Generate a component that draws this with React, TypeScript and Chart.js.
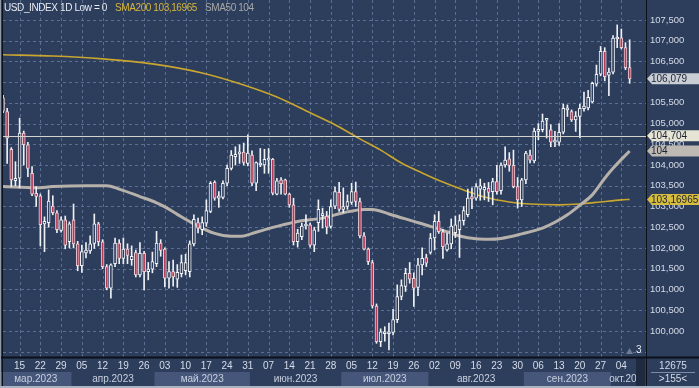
import React, { useEffect, useRef } from 'react';
import { Chart, registerables } from 'chart.js';

Chart.register(...registerables);

// ---- Data ----
const opens = [
  105.62, 105.29, 104.38, 103.62, 103.68, 104.77, 104.49, 103.80, 103.32, 103.26,
  102.58, 102.61, 103.01, 102.85, 102.42, 102.68, 102.15, 102.68, 102.10, 101.57,
  101.88, 101.93, 102.11, 102.58, 102.15, 101.55, 101.03, 101.62, 102.12, 101.75,
  101.97, 101.72, 101.89, 101.35, 101.87, 101.43, 101.49, 101.62, 102.12, 101.97,
  101.27, 101.43, 101.25, 101.38, 101.45, 101.43, 102.10, 102.61, 102.44, 102.60,
  102.88, 103.58, 103.20, 103.22, 103.56, 103.92, 104.20, 104.27, 104.31, 104.04,
  104.24, 103.56, 104.00, 104.00, 104.12, 104.14, 103.30, 103.64, 103.64, 103.30,
  103.04, 102.15, 102.27, 102.53, 102.56, 102.07, 102.61, 102.78, 102.77, 102.52,
  103.01, 103.34, 102.93, 103.00, 103.10, 103.36, 103.12, 102.29, 101.97, 101.65,
  100.60, 99.74, 99.93, 99.93, 99.96, 100.27, 100.83, 101.07, 101.39, 101.27,
  101.05, 101.59, 101.77, 101.89, 102.24, 102.64, 102.39, 101.95, 102.10, 102.37,
  102.44, 102.66, 102.80, 103.24, 103.20, 103.42, 103.40, 103.44, 103.36, 103.60,
  103.38, 104.00, 104.15, 103.99, 103.48, 103.16, 103.64, 104.24, 104.10, 104.81,
  104.85, 105.08, 104.85, 104.55, 104.55, 104.79, 105.33, 105.29, 105.09, 105.17,
  105.36, 105.38, 105.52, 105.95, 106.19, 106.74, 106.17, 106.24, 107.04, 107.07,
  106.83, 106.35,
];
const highs = [
  105.68, 105.37, 104.42, 104.08, 105.13, 104.82, 104.55, 103.96, 103.48, 103.30,
  102.75, 103.40, 103.26, 102.90, 102.75, 102.77, 102.63, 103.06, 102.16, 102.07,
  102.13, 102.29, 102.82, 102.62, 102.20, 101.60, 101.62, 102.24, 102.20, 102.24,
  102.10, 102.05, 101.95, 102.13, 101.92, 101.65, 101.90, 102.40, 102.20, 102.00,
  101.67, 101.71, 101.60, 101.83, 101.85, 102.17, 102.80, 102.72, 102.75, 103.16,
  103.60, 103.62, 103.36, 103.62, 104.00, 104.35, 104.44, 104.49, 104.53, 104.73,
  104.34, 104.08, 104.40, 104.38, 104.40, 104.16, 103.68, 103.70, 103.66, 103.32,
  103.20, 102.45, 102.60, 102.80, 102.60, 102.50, 103.16, 102.96, 102.88, 103.16,
  103.47, 103.58, 103.45, 103.28, 103.56, 103.59, 103.20, 102.37, 102.00, 101.70,
  100.65, 100.05, 100.10, 100.19, 100.52, 101.11, 101.23, 101.51, 101.65, 101.40,
  101.75, 102.00, 101.85, 102.35, 102.80, 102.88, 102.45, 102.36, 102.70, 102.77,
  102.80, 103.00, 103.42, 103.45, 103.55, 103.66, 103.56, 103.58, 103.68, 103.99,
  104.05, 104.44, 104.30, 104.36, 103.70, 103.68, 104.33, 104.36, 104.89, 105.00,
  105.23, 105.12, 104.97, 104.81, 105.00, 105.47, 105.45, 105.33, 105.29, 105.47,
  105.76, 105.80, 106.00, 106.41, 106.86, 106.83, 106.34, 107.12, 107.38, 107.28,
  106.95, 107.02,
];
const lows = [
  105.26, 104.04, 103.48, 103.50, 103.45, 104.00, 103.72, 103.26, 103.00, 102.05,
  101.91, 102.50, 102.80, 102.37, 102.38, 101.98, 102.00, 102.00, 101.45, 101.41,
  101.76, 101.87, 101.99, 102.05, 101.50, 100.99, 100.79, 101.55, 101.62, 101.62,
  101.62, 101.58, 101.30, 101.30, 100.99, 101.23, 101.40, 101.55, 101.80, 101.06,
  101.03, 101.08, 101.05, 101.30, 101.35, 101.30, 102.05, 102.36, 102.32, 102.52,
  102.85, 103.15, 102.98, 103.18, 103.50, 103.88, 104.00, 104.04, 104.00, 103.98,
  103.50, 103.38, 103.96, 103.80, 103.80, 103.28, 103.28, 103.30, 103.28, 102.98,
  102.07, 102.02, 102.20, 102.45, 102.02, 101.91, 102.40, 102.48, 102.34, 102.48,
  102.95, 102.88, 102.85, 102.93, 103.05, 103.00, 102.24, 101.95, 101.60, 100.55,
  99.70, 99.62, 99.75, 99.54, 99.90, 100.20, 100.75, 100.95, 101.15, 100.59,
  100.85, 101.35, 101.55, 101.85, 101.95, 102.35, 101.75, 101.92, 101.98, 102.25,
  101.77, 102.55, 102.75, 102.95, 103.15, 103.15, 103.16, 103.12, 103.04, 103.30,
  103.30, 103.95, 103.85, 103.45, 102.96, 103.00, 103.55, 104.05, 104.05, 104.61,
  104.80, 104.65, 104.44, 104.44, 104.47, 104.75, 105.17, 105.05, 104.81, 104.66,
  105.30, 105.33, 105.50, 105.90, 106.15, 106.03, 105.67, 106.20, 106.83, 106.80,
  106.30, 105.97,
];
const closes = [
  105.30, 104.65, 103.64, 103.68, 104.77, 104.49, 103.92, 103.30, 103.24, 102.56,
  102.64, 103.13, 102.85, 102.44, 102.68, 102.07, 102.58, 102.10, 101.57, 101.91,
  101.95, 102.10, 102.58, 102.15, 101.55, 101.03, 101.59, 102.12, 101.75, 101.97,
  101.82, 101.80, 101.35, 101.87, 101.43, 101.49, 101.67, 102.12, 101.94, 101.27,
  101.43, 101.30, 101.41, 101.65, 101.65, 102.10, 102.69, 102.48, 102.61, 102.90,
  103.56, 103.20, 103.26, 103.56, 103.92, 104.24, 104.26, 104.32, 104.06, 104.29,
  103.56, 104.06, 104.04, 104.14, 104.15, 103.32, 103.62, 103.55, 103.30, 103.04,
  102.15, 102.36, 102.53, 102.56, 102.07, 102.44, 102.93, 102.82, 102.50, 103.00,
  103.36, 102.93, 103.00, 103.12, 103.36, 103.12, 102.29, 101.97, 101.67, 100.60,
  99.74, 99.98, 99.96, 99.97, 100.27, 100.83, 101.09, 101.39, 101.25, 101.03,
  101.59, 101.75, 101.63, 102.24, 102.64, 102.39, 102.03, 102.10, 102.53, 102.56,
  102.66, 102.90, 103.20, 103.18, 103.48, 103.50, 103.46, 103.34, 103.60, 103.36,
  104.00, 104.12, 103.99, 103.48, 103.16, 103.64, 104.29, 104.12, 104.82, 104.85,
  105.06, 105.10, 104.55, 104.60, 104.79, 105.37, 105.37, 105.09, 105.18, 105.37,
  105.42, 105.63, 105.97, 106.19, 106.74, 106.13, 106.24, 107.06, 107.07, 106.83,
  106.35, 106.079,
];

const sma50Index = [0, 8, 12, 20, 25, 28, 33, 37, 39, 42, 46, 51, 55, 58, 61, 66, 71, 77, 82, 87, 89, 93, 99, 103, 107, 110, 114, 117, 120, 125, 130, 133, 136, 139, 142, 145, 147, 151];
const sma50Values = [103.48, 103.45, 103.48, 103.50, 103.50, 103.42, 103.24, 103.09, 102.99, 102.81, 102.58, 102.35, 102.28, 102.29, 102.38, 102.52, 102.64, 102.72, 102.85, 102.93, 102.93, 102.82, 102.64, 102.52, 102.39, 102.29, 102.22, 102.21, 102.23, 102.34, 102.48, 102.62, 102.80, 103.03, 103.28, 103.68, 103.92, 104.34];

const sma200Index = [0, 12, 24, 36, 48, 58, 66, 74, 80, 86, 91, 96, 101, 106, 111, 116, 122, 127, 134, 139, 144, 149, 151];
const sma200Values = [106.66, 106.63, 106.56, 106.44, 106.22, 105.93, 105.64, 105.26, 104.97, 104.63, 104.36, 104.05, 103.81, 103.59, 103.40, 103.23, 103.11, 103.06, 103.04, 103.06, 103.11, 103.16, 103.16965];

const weekTickIndex = [4, 9, 14, 19, 24, 29, 34, 39, 44, 49, 54, 59, 64, 69, 74, 79, 84, 89, 94, 99, 104, 109, 114, 119, 124, 129, 134, 139, 144, 149];
const weekLabels = ['15', '22', '29', '05', '12', '19', '26', '03', '10', '17', '24', '31', '07', '14', '21', '28', '05', '12', '19', '26', '02', '09', '16', '23', '30', '06', '13', '20', '27', '04'];
const monthLabels = ['мар.2023', 'апр.2023', 'май.2023', 'июн.2023', 'июл.2023', 'авг.2023', 'сен.2023', 'окт.2023'];
const monthStartIndex = [0, 17, 37, 60, 82, 103, 126, 147];

const yTickValues = [99.5, 100, 100.5, 101, 101.5, 102, 102.5, 103, 103.5, 104, 104.5, 105, 105.5, 106, 106.5, 107, 107.5];
const hiddenTickLabels = [99.5, 106];

const levelLine = 104.704;
const lastPrice = 106.079;
const sma50Tag = '104';
const sma200Last = 103.16965;
const titleMain = 'USD_INDEX 1D Low = 0';
const titleSma200 = 'SMA200 103,16965';
const titleSma50 = 'SMA50 104';
const boxTop = '12675';
const boxBottom = '>155<';
const markerText = '3';

// ---- Styles ----
const BG = '#2d3d5c';
const GRID = '#5b6f94';
const DOWN = '#b23a58';
const DOWN_BORDER = '#ecd0d8';
const UP_BORDER = '#f2f4f8';
const TEXT = '#d6dce8';
const FONT = "'Liberation Sans', Arial, sans-serif";
const Y_MIN = 99.37;
const Y_MAX = 107.98;
const X_MIN = 0;
const X_MAX = 154.94;

const fmt = (v: number) => v.toFixed(3).replace('.', ',');

const zeroPadding = (s: any) => {
  s.paddingTop = 0;
  s.paddingBottom = 0;
  s.paddingLeft = 0;
  s.paddingRight = 0;
};

const chartPlugin = {
  id: 'terminalLook',
  beforeDraw(chart: any) {
    const { ctx, width, height } = chart;
    ctx.save();
    ctx.fillStyle = BG;
    ctx.fillRect(0, 0, width, height);
    ctx.restore();
  },
  beforeDatasetsDraw(chart: any) {
    const { ctx, chartArea: a, scales } = chart;
    const x = scales.x, y = scales.y;
    ctx.save();
    ctx.beginPath();
    ctx.rect(a.left, a.top, a.right - a.left, a.bottom - a.top);
    ctx.clip();
    ctx.strokeStyle = GRID;
    ctx.lineWidth = 1;
    ctx.setLineDash([3, 3]);
    for (const t of y.ticks) {
      const py = Math.round(y.getPixelForValue(t.value)) + 0.5;
      ctx.beginPath();
      ctx.moveTo(a.left, py);
      ctx.lineTo(a.right, py);
      ctx.stroke();
    }
    for (const t of x.ticks) {
      const px = Math.round(x.getPixelForValue(t.value)) + 0.5;
      ctx.beginPath();
      ctx.moveTo(px, a.top);
      ctx.lineTo(px, a.bottom);
      ctx.stroke();
    }
    ctx.restore();
  },
  afterDatasetsDraw(chart: any) {
    const { ctx, chartArea: a, scales } = chart;
    const py = Math.round(scales.y.getPixelForValue(levelLine)) + 0.5;
    ctx.save();
    ctx.strokeStyle = '#d4d4cc';
    ctx.lineWidth = 1;
    ctx.beginPath();
    ctx.moveTo(a.left, py);
    ctx.lineTo(a.right, py);
    ctx.stroke();
    ctx.restore();
  },
  afterDraw(chart: any) {
    const { ctx, chartArea: a, scales, width, height } = chart;
    const x = scales.x, y = scales.y;
    ctx.save();

    // month bands
    const bandTop = 372, bandBottom = 386;
    ctx.font = `10px ${FONT}`;
    ctx.textAlign = 'center';
    ctx.textBaseline = 'middle';
    for (let k = 0; k < monthLabels.length; k++) {
      const x0 = k === 0 ? 0 : x.getPixelForValue(monthStartIndex[k] - 0.5);
      const x1 = k + 1 < monthLabels.length ? x.getPixelForValue(monthStartIndex[k + 1] - 0.5) : a.right;
      if (k % 2 === 0) {
        ctx.fillStyle = '#45567a';
        ctx.fillRect(x0, bandTop, x1 - x0, bandBottom - bandTop);
      }
      ctx.save();
      ctx.beginPath();
      ctx.rect(0, bandTop, 636, bandBottom - bandTop);
      ctx.clip();
      ctx.fillStyle = '#c9d1e0';
      ctx.fillText(monthLabels[k], (x0 + x1) / 2, 379);
      ctx.restore();
    }

    // scroll strip + marker
    ctx.fillStyle = '#1f2a40';
    ctx.fillRect(636, 358, 9, 29);
    ctx.fillStyle = '#6d7a92';
    ctx.beginPath();
    ctx.moveTo(626, 354);
    ctx.lineTo(629.5, 348);
    ctx.lineTo(633, 354);
    ctx.closePath();
    ctx.fill();
    ctx.fillStyle = '#e8ecf2';
    ctx.textAlign = 'left';
    ctx.fillText(markerText, 636, 350);

    // frame lines
    ctx.strokeStyle = '#0c1018';
    ctx.lineWidth = 2;
    ctx.beginPath();
    ctx.moveTo(0, 357.5);
    ctx.lineTo(width, 357.5);
    ctx.stroke();
    ctx.lineWidth = 1;
    ctx.beginPath();
    ctx.moveTo(646.5, 0);
    ctx.lineTo(646.5, height);
    ctx.stroke();
    ctx.beginPath();
    ctx.moveTo(2.5, 0);
    ctx.lineTo(2.5, height);
    ctx.stroke();
    ctx.strokeStyle = '#8e98ab';
    ctx.beginPath();
    ctx.moveTo(0.5, 0);
    ctx.lineTo(0.5, height);
    ctx.stroke();
    ctx.strokeStyle = '#aab3c2';
    ctx.lineWidth = 2;
    ctx.beginPath();
    ctx.moveTo(0, height - 1);
    ctx.lineTo(width, height - 1);
    ctx.stroke();

    // bottom-right box
    ctx.fillStyle = TEXT;
    ctx.textAlign = 'center';
    ctx.font = `10px ${FONT}`;
    ctx.fillText(boxTop, 673, 366);
    ctx.fillText(boxBottom, 673, 379);
    ctx.strokeStyle = '#7d8aa3';
    ctx.lineWidth = 1;
    ctx.beginPath();
    ctx.moveTo(651, 372.5);
    ctx.lineTo(695, 372.5);
    ctx.stroke();

    // value tags on the price axis
    const tag = (val: number, text: string, bg: string, fg: string) => {
      const py = y.getPixelForValue(val);
      ctx.fillStyle = bg;
      ctx.beginPath();
      ctx.moveTo(647, py);
      ctx.lineTo(652, py - 5.5);
      ctx.lineTo(width, py - 5.5);
      ctx.lineTo(width, py + 5.5);
      ctx.lineTo(652, py + 5.5);
      ctx.closePath();
      ctx.fill();
      ctx.fillStyle = fg;
      ctx.textAlign = 'left';
      ctx.textBaseline = 'middle';
      ctx.font = `10px ${FONT}`;
      ctx.fillText(text, 651, py + 0.5);
    };
    tag(lastPrice, fmt(lastPrice), '#c9cdd4', '#1b2233');
    tag(levelLine, fmt(levelLine), '#e6e4d4', '#1b2233');
    tag(sma50Values[sma50Values.length - 1], sma50Tag, '#beb9b3', '#1b2233');
    tag(sma200Last, String(sma200Last).replace('.', ','), '#d6bd3e', '#1b2233');

    // title
    ctx.textAlign = 'left';
    ctx.textBaseline = 'middle';
    ctx.font = `10px ${FONT}`;
    try { (ctx as any).letterSpacing = '-0.4px'; } catch (e) {}
    ctx.fillStyle = '#e8ecf3';
    ctx.fillText(titleMain, 4, 8);
    ctx.fillStyle = '#d6b63c';
    ctx.fillText(titleSma200, 115, 8);
    ctx.fillStyle = '#a8a8a8';
    ctx.fillText(titleSma50, 205, 8);
    try { (ctx as any).letterSpacing = '0px'; } catch (e) {}
    ctx.restore();
  },
};

export default function App() {
  const ref = useRef<HTMLCanvasElement | null>(null);
  useEffect(() => {
    if (!ref.current) return;
    const up = closes.map((c, i) => c >= opens[i]);
    const chart = new Chart(ref.current, {
      type: 'bar',
      data: {
        datasets: [
          {
            type: 'line',
            data: sma200Index.map((xi, k) => ({ x: xi, y: sma200Values[k] })),
            borderColor: '#c9a630',
            borderWidth: 1.6,
            pointRadius: 0,
            tension: 0.4,
            cubicInterpolationMode: 'monotone',
            order: 10,
          } as any,
          {
            type: 'line',
            data: sma50Index.map((xi, k) => ({ x: xi, y: sma50Values[k] })),
            borderColor: '#b6b1aa',
            borderWidth: 3,
            pointRadius: 0,
            tension: 0.4,
            cubicInterpolationMode: 'monotone',
            order: 9,
          } as any,
          {
            type: 'bar',
            data: highs.map((h, i) => ({ x: i, y: [lows[i], h] })),
            backgroundColor: '#eef0f4',
            borderWidth: 0,
            grouped: false,
            barPercentage: 1,
            categoryPercentage: 1,
            maxBarThickness: 1,
            order: 5,
          } as any,
          {
            type: 'bar',
            data: opens.map((o, i) => ({ x: i, y: [o, closes[i]] })),
            backgroundColor: up.map((u) => (u ? BG : DOWN)),
            borderColor: up.map((u) => (u ? UP_BORDER : DOWN_BORDER)),
            borderWidth: 1,
            borderSkipped: false,
            grouped: false,
            barPercentage: 1,
            categoryPercentage: 1,
            maxBarThickness: 3,
            minBarLength: 2,
            order: 1,
          } as any,
        ],
      },
      options: {
        animation: false,
        responsive: false,
        maintainAspectRatio: false,
        layout: { padding: { left: 3, top: 0, right: 0, bottom: 0 } },
        plugins: { legend: { display: false }, tooltip: { enabled: false } },
        scales: {
          x: {
            type: 'linear',
            min: X_MIN,
            max: X_MAX,
            offset: false,
            grid: { display: false, drawTicks: false },
            border: { display: false },
            afterBuildTicks: (s: any) => {
              s.ticks = weekTickIndex.map((v) => ({ value: v }));
            },
            afterFit: (s: any) => {
              s.height = 31;
              zeroPadding(s);
            },
            ticks: {
              autoSkip: false,
              maxRotation: 0,
              minRotation: 0,
              padding: 3,
              color: TEXT,
              font: { family: FONT, size: 10 },
              callback: (_v: any, idx: number) => weekLabels[idx],
            },
          },
          y: {
            type: 'linear',
            position: 'right',
            min: Y_MIN,
            max: Y_MAX,
            grid: { display: false, drawTicks: false },
            border: { display: false },
            afterBuildTicks: (s: any) => {
              s.ticks = yTickValues.map((v) => ({ value: v }));
            },
            afterFit: (s: any) => {
              s.width = 53;
              zeroPadding(s);
            },
            ticks: {
              padding: 4,
              color: TEXT,
              font: { family: FONT, size: 9.5 },
              callback: (v: any) => (hiddenTickLabels.includes(Number(v)) ? '' : fmt(Number(v))),
            },
          },
        },
      } as any,
      plugins: [chartPlugin],
    });
    return () => chart.destroy();
  }, []);
  return (
    <div style={{ position: 'fixed', left: 0, top: 0, width: 699, height: 388 }}>
      <canvas ref={ref} width={699} height={388} style={{ width: 699, height: 388, display: 'block' }} />
    </div>
  );
}
